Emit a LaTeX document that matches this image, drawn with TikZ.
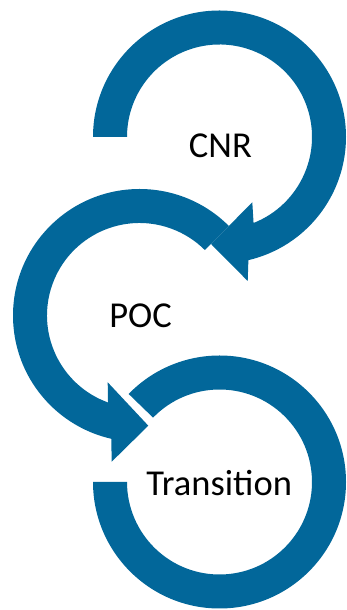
\documentclass[tikz,border=0pt]{standalone}
\usepackage{fontspec}
\setmainfont{Carlito}
\usetikzlibrary{calc}
\definecolor{arrowblue}{RGB}{2,103,154}
\tikzset{
  band/.style={fill=arrowblue, draw=none},
  lbl/.style={anchor=base, inner sep=0pt, font=\fontsize{36.5}{40}\selectfont, text=black}
}
\begin{document}
\begin{tikzpicture}[x=1pt,y=1pt]
\useasboundingbox (0,0) rectangle (346,610);
\coordinate (c1) at (219.5,473);
\coordinate (c2) at (139.5,294.5);
\coordinate (c3) at (219.5,128);
% Transition ring (no head)
\fill[band] ($(c3)+(180:126.5)$) arc[start angle=180,end angle=495.9,radius=126.5]
  -- ($(c3)+(495.9:92.5)$) arc[start angle=495.9,end angle=180,radius=92.5] -- cycle;
% POC arrow
\fill[band] ($(c2)+(45:126.5)$) arc[start angle=45,end angle=257.1,radius=126.5]
  -- ($(c2)+(-27.8,-146.2)$) -- ($(c2)+(8.8,-110.2)$) -- ($(c2)+(-31.8,-66.8)$)
  -- ($(c2)+(250.1:92.5)$) arc[start angle=250.1,end angle=45,radius=92.5] -- cycle;
% CNR arrow
\fill[band] ($(c1)+(180:126.5)$) arc[start angle=180,end angle=-76.8,radius=126.5]
  -- ($(c1)+(28.2,-144)$) -- ($(c1)+(-8.5,-107)$) -- ($(c1)+(32.8,-65.3)$)
  -- ($(c1)+(-68.4:92.5)$) arc[start angle=-68.4,end angle=180,radius=92.5] -- cycle;
\node[lbl] (cnr) at (220.4,452.5) {CNR};
\node[lbl] (poc) at (140.5,282.3) {POC};
\node[lbl] (tr) at (219.2,114) {Transition};
\end{tikzpicture}
\end{document}
